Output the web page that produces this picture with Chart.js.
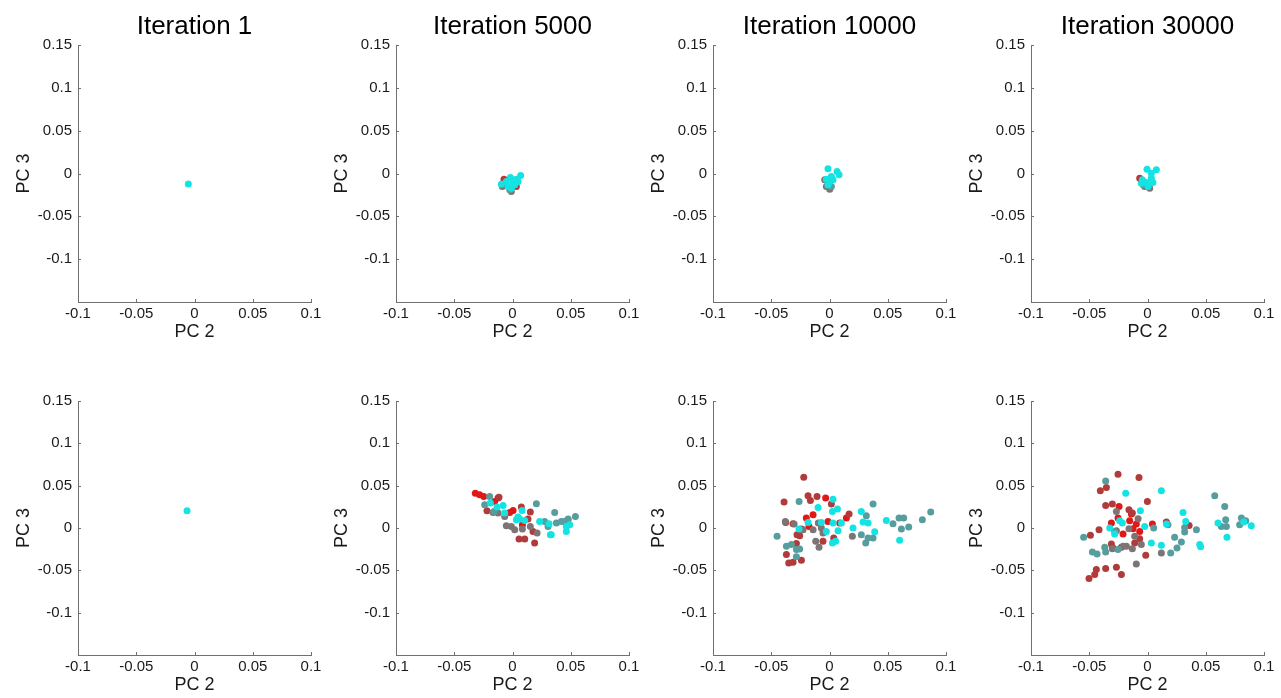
<!DOCTYPE html>
<html><head><meta charset="utf-8">
<script src="https://cdn.jsdelivr.net/npm/chart.js@4/dist/chart.umd.min.js"></script>
<style>
html,body{margin:0;padding:0;background:#fff;overflow:hidden;width:1281px;height:698px;position:relative}
canvas{position:absolute}
</style></head><body>
<script>
// ---- axis ticks & titles ----
const xTicks = [-0.1, -0.05, 0, 0.05, 0.1];
const yTicks = [-0.1, -0.05, 0, 0.05, 0.1, 0.15];
const titles = ['Iteration 1', 'Iteration 5000', 'Iteration 10000', 'Iteration 30000'];
const xLabel = 'PC 2';
const yLabel = 'PC 3';

// ---- top row data [PC2, PC3] ----
const top1_cyan = [[-0.0053, -0.0124]];

const top2_cyan = [[-0.0096,-0.0125],[-0.0053,-0.0093],[-0.0018,-0.0047],[0.0005,-0.0105],[0.0033,-0.0066],[0.007,-0.0023],[-0.001,-0.0172],[-0.0038,-0.0152],[0.0019,-0.0132],[0.0047,-0.0093]];
const top2_darkred = [[-0.0073,-0.0066],[0.0033,-0.0152],[-0.0087,-0.0132]];
const top2_gray = [[-0.0087,-0.0152],[-0.001,-0.021]];
const top2_teal = [[-0.0024,-0.0191]];

const top3_cyan = [[-0.0013,0.0055],[0.0065,0.0024],[0.0082,-0.0015],[0.0016,-0.0035],[0.0002,-0.0094],[-0.0013,-0.0133],[0.003,-0.0074],[-0.0027,-0.0066]];
const top3_gray = [[-0.0041,-0.0074],[0.0002,-0.0183],[-0.0027,-0.0152]];
const top3_teal = [[0.0016,-0.0152]];

const top4_cyan = [[-0.0004,0.0051],[0.0076,0.0043],[0.0033,0.0004],[-0.0044,-0.0074],[-0.001,-0.0105],[0.0033,-0.0054],[0.0047,-0.0105],[0.0005,-0.0152],[-0.0053,-0.0113]];
const top4_darkred = [[-0.0067,-0.0054]];
const top4_gray = [[-0.0024,-0.0152],[0.0019,-0.0171]];
const top4_teal = [[-0.0038,-0.0132]];

// ---- bottom row data ----
const bot1_cyan = [[-0.0064, 0.0204]];

const bot2_red = [[-0.0319,0.0411],[-0.0282,0.0392],[-0.0247,0.0372],[-0.0124,0.0353],[0.0005,0.0207],[-0.0024,0.0184],[0.0085,0.0039],[-0.0153,0.0313]];
const bot2_darkred = [[-0.0219,0.0204],[0.0076,0.0247],[0.0153,0.0188],[0.0056,-0.013],[0.0105,-0.013],[0.019,-0.0177],[0.0133,0.0105],[0.0176,-0.004],[-0.0116,0.0364]];
const bot2_gray = [[-0.0067,0.0137],[-0.0053,0.0027],[-0.001,0.0019],[0.0019,-0.002],[0.0085,-0.0012],[0.0153,0.0019],[0.0211,-0.0059],[-0.0167,0.0184],[-0.0124,0.0176]];
const bot2_teal = [[-0.0196,0.0372],[-0.0239,0.0274],[-0.0159,0.0196],[0.0205,0.0286],[0.0362,0.0184],[0.0439,0.0078],[0.0377,0.0058],[0.0276,0.0078],[0.0305,0.0019],[0.0477,0.0098],[0.054,0.0137],[0.0419,0.0078],[0.0477,0.0105]];
const bot2_cyan = [[-0.019,0.0294],[-0.0133,0.0247],[-0.0081,0.0266],[-0.0067,0.0176],[0.0047,0.0129],[0.0082,0.0207],[0.0105,0.009],[0.0233,0.0078],[0.0314,0.0051],[0.0462,0.0019],[0.0325,-0.0079],[0.0033,0.0098],[0.0062,0.0105],[0.0491,0.0039],[0.0462,-0.004],[0.0333,-0.0079]];

const bot3_red = [[-0.0033,0.0353],[-0.0141,0.0157],[-0.0199,0.0117],[-0.0013,0.0078],[0.0088,0.0058],[0.0145,0.0117],[-0.0176,0.0019]];
const bot3_darkred = [[-0.0221,0.060],[-0.039,0.0306],[-0.0184,0.038],[-0.0164,0.0325],[-0.0107,0.0372],[0.0016,0.0282],[-0.0376,0.0066],[-0.0313,0.0051],[-0.0279,-0.0079],[-0.0256,-0.0091],[-0.0284,-0.0184],[-0.037,-0.0314],[-0.035,-0.0412],[-0.0313,-0.0404],[-0.0241,-0.038],[0.0036,-0.0118],[0.0168,0.0164],[-0.0056,-0.0157],[-0.0241,-0.0012]];
const bot3_gray = [[-0.0379,0.0078],[-0.0304,0.0047],[-0.0096,0.0058],[-0.0141,-0.002],[-0.0056,-0.0059],[-0.009,-0.0228],[-0.0118,-0.0157],[0.0196,-0.0098],[-0.0227,-0.002],[-0.007,0.0]];
const bot3_teal = [[-0.0261,0.0313],[-0.045,-0.0098],[-0.037,-0.0216],[-0.0327,-0.0196],[-0.0284,-0.0255],[-0.0256,-0.0247],[-0.0284,-0.0341],[0.0374,0.0282],[0.0316,0.0145],[0.0273,-0.0079],[0.0331,-0.0118],[0.0374,-0.0118],[0.0545,0.0051],[0.0597,0.0117],[0.0637,0.0117],[0.0617,-0.0012],[0.068,0.0011],[0.0797,0.0098],[0.0869,0.0188],[0.0311,-0.0177]];
const bot3_cyan = [[0.003,0.0341],[-0.0098,0.0243],[0.0025,0.0196],[0.0068,0.0223],[-0.0184,0.0066],[-0.007,0.0066],[0.003,0.0058],[-0.0027,-0.004],[0.0073,-0.0032],[-0.0262,-0.0012],[0.0273,0.0196],[0.0288,0.007],[0.0331,0.0058],[0.0202,0.0],[0.0488,0.009],[0.0388,-0.0044],[0.0602,-0.0145],[0.0025,-0.0177],[0.0053,-0.0157],[0.0102,0.0058]];

const bot4_red = [[-0.0244,0.0255],[-0.0138,0.0164],[-0.0253,0.0117],[-0.0153,0.0086],[-0.0096,0.0047],[0.0042,0.0047],[-0.021,-0.0071],[-0.0124,-0.0008],[-0.0067,-0.004],[-0.031,0.0058]];
const bot4_darkred = [[-0.0253,0.0635],[-0.0073,0.0596],[-0.0405,0.0439],[-0.0353,0.0478],[-0.0359,0.0266],[-0.0302,0.0282],[-0.0001,0.0313],[-0.0159,0.0215],[-0.013,0.0176],[-0.049,-0.0087],[-0.0416,-0.002],[-0.031,-0.0189],[-0.0296,-0.0236],[-0.0224,-0.0228],[-0.011,-0.0177],[-0.0067,-0.0126],[-0.0015,-0.0322],[-0.0439,-0.0491],[-0.0359,-0.0479],[-0.0267,-0.0463],[-0.0224,-0.0549],[-0.0453,-0.0549],[-0.0502,-0.0596],[0.0357,0.0031],[0.0162,0.007]];
const bot4_gray = [[-0.0267,0.0196],[-0.0081,0.0109],[-0.0267,-0.0032],[-0.0159,-0.0008],[-0.011,-0.0098],[-0.021,-0.0216],[-0.0181,-0.0216],[-0.0053,-0.0196],[-0.013,-0.0244],[-0.0096,-0.0424],[0.0119,-0.0294],[-0.0302,-0.0244]];
const bot4_teal = [[-0.0359,0.0556],[-0.0548,-0.011],[-0.0473,-0.0283],[-0.0433,-0.0306],[-0.0367,-0.0228],[-0.0359,-0.0283],[-0.0282,-0.004],[-0.0253,-0.0255],[0.0053,0.0],[0.0176,0.0039],[0.0319,0.0007],[0.0319,-0.0047],[0.0233,-0.011],[0.0291,-0.0165],[0.0253,-0.0236],[0.0199,-0.0294],[0.042,-0.002],[0.0577,0.038],[0.0663,0.0254],[0.0671,0.0098],[0.0634,0.0019],[0.0677,0.0019],[0.0806,0.0117],[0.0843,0.0086],[0.0791,0.0039]];
const bot4_cyan = [[-0.0187,0.0411],[0.0119,0.0439],[-0.0061,0.0204],[-0.0239,0.0086],[-0.0216,0.0058],[-0.0324,0.0],[-0.0282,-0.0071],[-0.0024,0.0019],[0.0033,-0.0177],[0.0119,-0.0204],[0.0305,0.0184],[0.0328,0.0078],[0.0162,0.0047],[0.0448,-0.0196],[0.0456,-0.022],[0.0605,0.0058],[0.0682,-0.011],[0.0891,0.0027],[0.0826,0.007]];

// ---- colours ----
const COL = { cyan:'#14e3e3', teal:'#589d9d', gray:'#7e7474', darkred:'#b13b3b', red:'#e01818' };

// ---- panel definitions ----
const panels = [
  {row:0, col:0, title:titles[0], s:{cyan:top1_cyan}},
  {row:0, col:1, title:titles[1], s:{cyan:top2_cyan, teal:top2_teal, gray:top2_gray, darkred:top2_darkred}},
  {row:0, col:2, title:titles[2], s:{cyan:top3_cyan, teal:top3_teal, gray:top3_gray}},
  {row:0, col:3, title:titles[3], s:{cyan:top4_cyan, teal:top4_teal, gray:top4_gray, darkred:top4_darkred}},
  {row:1, col:0, title:'', s:{cyan:bot1_cyan}},
  {row:1, col:1, title:'', s:{cyan:bot2_cyan, teal:bot2_teal, gray:bot2_gray, darkred:bot2_darkred, red:bot2_red}},
  {row:1, col:2, title:'', s:{cyan:bot3_cyan, teal:bot3_teal, gray:bot3_gray, darkred:bot3_darkred, red:bot3_red}},
  {row:1, col:3, title:'', s:{cyan:bot4_cyan, teal:bot4_teal, gray:bot4_gray, darkred:bot4_darkred, red:bot4_red}}
];

const canvasLeft = [0, 318, 635, 953];
const canvasTop = [0, 356];
const plotH = [257, 254];
const AXIS = '#707070';
const FONT = "'Liberation Sans', Arial, Helvetica, sans-serif";

const inwardTicks = {
  id:'inwardTicks',
  afterDraw(chart){
    const {ctx, chartArea:ca, scales} = chart;
    ctx.save();
    ctx.strokeStyle = AXIS; ctx.lineWidth = 1;
    ctx.beginPath();
    xTicks.forEach(v=>{ const p = Math.round(scales.x.getPixelForValue(v))+0.5; ctx.moveTo(p, ca.bottom); ctx.lineTo(p, ca.bottom-3); });
    yTicks.forEach(v=>{ const p = Math.round(scales.y.getPixelForValue(v))+0.5; ctx.moveTo(ca.left, p); ctx.lineTo(ca.left+3, p); });
    ctx.stroke();
    ctx.restore();
  }
};

panels.forEach(p=>{
  const c = document.createElement('canvas');
  const W = 78 + 233 + 14;
  const H = 45 + plotH[p.row] + 41;
  c.width = W; c.height = H;
  c.style.left = canvasLeft[p.col]+'px';
  c.style.top = canvasTop[p.row]+'px';
  c.style.width = W+'px'; c.style.height = H+'px';
  document.body.appendChild(c);
  const order = ['cyan','teal','gray','darkred','red'];
  const datasets = order.filter(k=>p.s[k]).map(k=>({
    label:k,
    data:p.s[k].map(d=>({x:d[0], y:d[1]})),
    backgroundColor:COL[k], borderWidth:0, pointRadius:3.5, pointHoverRadius:3.5
  }));
  new Chart(c, {
    type:'scatter',
    data:{datasets},
    plugins:[inwardTicks],
    options:{
      responsive:false, animation:false, devicePixelRatio:1,
      layout:{padding:{left:0, right:14, top: p.row===0?0:45, bottom:0}},
      plugins:{
        legend:{display:false}, tooltip:{enabled:false},
        title:{display:p.row===0, text:p.title, color:'#000', fullSize:false,
          font:{family:FONT, size:26, weight:'normal', lineHeight:1.2},
          padding:{top:11, bottom:2.8}}
      },
      scales:{
        x:{type:'linear', min:-0.1, max:0.1,
          afterBuildTicks(s){ s.ticks = xTicks.map(v=>({value:v})); },
          afterFit(s){ s.height = 41; },
          grid:{display:false, drawTicks:false, tickLength:0}, border:{display:true, color:AXIS, width:1},
          ticks:{color:'#1a1a1a', font:{family:FONT, size:15}, padding:3, maxRotation:0, autoSkip:false,
            callback:(v)=>String(v)},
          title:{display:true, text:xLabel, color:'#1a1a1a', font:{family:FONT, size:18}, padding:{top:0,bottom:0}}
        },
        y:{type:'linear', min:-0.15, max:0.15,
          afterBuildTicks(s){ s.ticks = yTicks.map(v=>({value:v})); },
          afterFit(s){ s.width = 78; },
          grid:{display:false, drawTicks:false, tickLength:0}, border:{display:true, color:AXIS, width:1},
          ticks:{color:'#1a1a1a', font:{family:FONT, size:15}, padding:6, autoSkip:false,
            callback:(v)=>String(v)},
          title:{display:true, text:yLabel, color:'#1a1a1a', font:{family:FONT, size:18}, padding:{top:13,bottom:0}}
        }
      }
    }
  });
});
</script>
</body></html>
